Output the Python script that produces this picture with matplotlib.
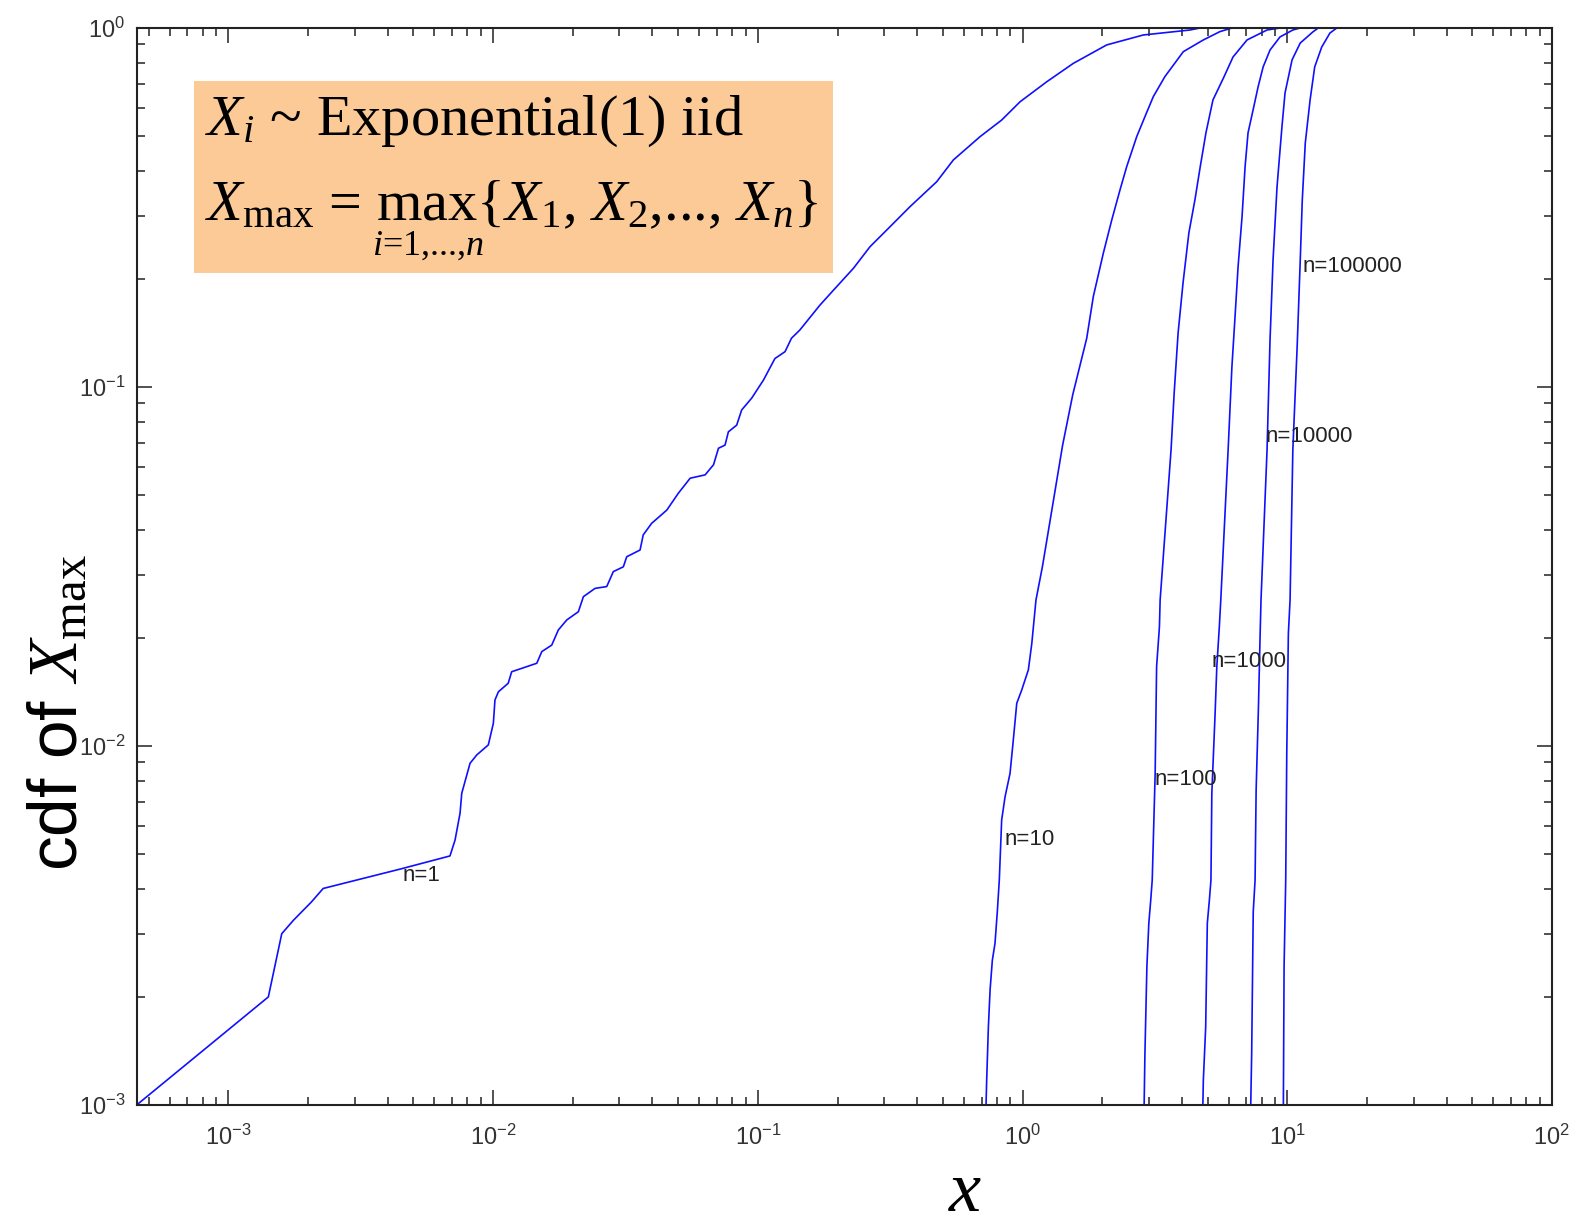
import matplotlib
matplotlib.use("Agg")
import matplotlib.pyplot as plt
from matplotlib.patches import Rectangle

plt.rcParams['font.family'] = ['Liberation Sans', 'DejaVu Sans']
plt.rcParams['mathtext.fontset'] = 'custom'
plt.rcParams['mathtext.rm'] = 'Liberation Serif'
plt.rcParams['mathtext.it'] = 'Liberation Serif:italic'
plt.rcParams['mathtext.bf'] = 'Liberation Serif:bold'
plt.rcParams['axes.unicode_minus'] = False

x_n1 = [4.5e-4, 1.415e-3, 1.59e-3, 1.76e-3, 2.06e-3, 2.28e-3, 4.45e-3, 6.87e-3, 7.18e-3, 7.50e-3,
        7.61e-3, 8.18e-3, 8.67e-3, 9.59e-3, 0.01002, 0.01016, 0.01047, 0.0114, 0.01175, 0.01462,
        0.01527, 0.01665, 0.01763, 0.01897, 0.02099, 0.02193, 0.02427, 0.02686, 0.02845, 0.03104,
        0.03197, 0.0359, 0.0369, 0.0397, 0.0453, 0.0501, 0.0555, 0.0632, 0.0680, 0.0710,
        0.0752, 0.0774, 0.0832, 0.0869, 0.0948, 0.105, 0.116, 0.1267, 0.134, 0.144,
        0.1716, 0.193, 0.2296, 0.2655, 0.307, 0.376, 0.474, 0.548, 0.691, 0.834,
        0.979, 1.234, 1.556, 2.08, 2.86, 4.29, 4.69]
y_n1 = [1.0e-3, 2.0e-3, 3.0e-3, 3.27e-3, 3.68e-3, 4.01e-3, 4.54e-3, 4.94e-3, 5.47e-3, 6.5e-3,
        7.38e-3, 8.95e-3, 9.44e-3, 0.01007, 0.01157, 0.01343, 0.01416, 0.01495, 0.0161, 0.0170,
        0.01832, 0.0191, 0.02104, 0.02244, 0.02366, 0.02606, 0.02748, 0.0278, 0.0306, 0.03156,
        0.03366, 0.03515, 0.03873, 0.0417, 0.0454, 0.0506, 0.0557, 0.0569, 0.0607, 0.0675,
        0.0689, 0.0750, 0.0783, 0.0863, 0.0931, 0.1045, 0.120, 0.1254, 0.1367, 0.144,
        0.169, 0.186, 0.214, 0.246, 0.2737, 0.318, 0.373, 0.429, 0.498, 0.554,
        0.623, 0.708, 0.797, 0.897, 0.956, 0.987, 1.0]

x_n10 = [0.728, 0.732, 0.743, 0.754, 0.769, 0.787, 0.803, 0.817, 0.834, 0.859, 0.897, 0.923,
         0.951, 0.993, 1.052, 1.084, 1.124, 1.189, 1.298, 1.417, 1.548, 1.748, 1.851, 2.019,
         2.173, 2.335, 2.475, 2.70, 2.90, 3.12, 3.45, 4.05, 4.82, 5.57, 6.19]
y_n10 = [1.0e-3, 1.17e-3, 1.65e-3, 2.09e-3, 2.53e-3, 2.82e-3, 3.45e-3, 4.23e-3, 6.22e-3, 7.22e-3,
         8.39e-3, 0.0104, 0.01315, 0.01432, 0.0163, 0.0193, 0.0255, 0.0316, 0.0466, 0.0688,
         0.0952, 0.1367, 0.1786, 0.2357, 0.2918, 0.354, 0.411, 0.498, 0.566, 0.644, 0.732,
         0.859, 0.926, 0.977, 1.0]

x_n100 = [2.88, 2.90, 2.95, 3.00, 3.05, 3.09, 3.12, 3.17, 3.21, 3.29, 3.31, 3.64, 3.74, 3.87,
          4.04, 4.25, 4.48, 4.69, 4.93, 5.24, 5.77, 6.24, 7.05, 8.39, 9.39]
y_n100 = [1.0e-3, 1.39e-3, 2.43e-3, 3.21e-3, 3.72e-3, 4.23e-3, 5.47e-3, 8.39e-3, 0.01663, 0.0215,
          0.0255, 0.0668, 0.0962, 0.1413, 0.195, 0.2685, 0.332, 0.410, 0.510, 0.630, 0.731,
          0.830, 0.926, 0.987, 1.0]

x_n1000 = [4.80, 4.82, 4.92, 4.99, 5.08, 5.15, 5.19, 5.34, 5.42, 5.54, 5.61, 5.98, 6.18, 6.35,
           6.52, 6.75, 6.93, 7.11, 7.43, 7.76, 8.11, 8.61, 9.39, 10.5, 11.2]
y_n1000 = [1.0e-3, 1.17e-3, 1.65e-3, 3.21e-3, 3.72e-3, 4.23e-3, 7.38e-3, 0.01233, 0.01663, 0.0215,
           0.0255, 0.0668, 0.1137, 0.1567, 0.216, 0.298, 0.410, 0.510, 0.591, 0.685, 0.779,
           0.868, 0.944, 0.987, 1.0]

x_n10000 = [7.28, 7.34, 7.44, 7.56, 7.63, 7.78, 7.89, 7.96, 8.39, 8.61, 8.84, 9.15, 9.55, 9.81,
            10.43, 11.2, 12.5, 13.1]
y_n10000 = [1.0e-3, 1.39e-3, 3.45e-3, 4.23e-3, 7.54e-3, 0.0126, 0.0197, 0.0255, 0.0668, 0.135,
            0.226, 0.3606, 0.530, 0.659, 0.815, 0.908, 0.975, 1.0]

x_n100000 = [9.67, 9.73, 9.87, 9.96, 10.1, 10.25, 10.5, 10.9, 11.2, 11.4, 11.7, 12.2, 12.7, 13.5,
             14.5, 15.4]
y_n100000 = [1.0e-3, 2.43e-3, 4.23e-3, 9.54e-3, 0.0206, 0.0255, 0.0668, 0.129, 0.226, 0.332,
             0.478, 0.630, 0.779, 0.885, 0.968, 1.0]

labels = ["n=1", "n=10", "n=100", "n=1000", "n=10000", "n=100000"]
label_x = [4.55e-3, 0.859, 3.14, 5.19, 8.30, 11.4]
label_y = [4.37e-3, 5.5e-3, 8.09e-3, 0.01714, 0.0730, 0.217]

curves = [(x_n1, y_n1), (x_n10, y_n10), (x_n100, y_n100),
          (x_n1000, y_n1000), (x_n10000, y_n10000), (x_n100000, y_n100000)]

fig = plt.figure(figsize=(15.87, 12.21), dpi=100)
ax = fig.add_axes([0.0861, 0.0950, 0.8918, 0.8821])

for xs, ys in curves:
    ax.plot(xs, ys, color='#1010ff', lw=1.2)

for t, lx, ly in zip(labels, label_x, label_y):
    ax.text(lx, ly, t, fontsize=16, color='#222222', ha='left', va='center')

ax.set_xscale('log')
ax.set_yscale('log')
ax.set_xlim(4.5e-4, 100)
ax.set_ylim(1e-3, 1)

ax.tick_params(which='both', direction='in', top=True, right=True, colors='#222222',
               labelcolor='#333333', labelsize=17)
ax.tick_params(which='major', length=11, width=1.1)
ax.tick_params(which='minor', length=5.5, width=1.1)
ax.tick_params(axis='x', pad=14)
ax.tick_params(axis='y', pad=8)
for s in ax.spines.values():
    s.set_linewidth(1.5)
    s.set_color('#222222')

# formula box
fig.patches.append(Rectangle((0.1222, 0.7764), 0.4027, 0.1573, transform=fig.transFigure,
                             facecolor='#fcca96', edgecolor='none', zorder=1))
fig.text(0.1292, 0.8894, r"$X_i$ ~ Exponential(1) iid", fontsize=42,
         family='Liberation Serif', va='baseline', ha='left', zorder=3)
fig.text(0.1292, 0.8193, r"$X_{\mathrm{max}}$ = max{$X_1$, $X_2$,..., $X_n$}",
         fontsize=42, family='Liberation Serif', va='baseline', ha='left', zorder=3)
fig.text(0.2346, 0.7912, r"$i$=1,...,$n$", fontsize=26, family='Liberation Serif',
         va='baseline', ha='left', zorder=3)

fig.text(0.0365, 0.416, r"cdf of $X_{\mathrm{max}}$", fontsize=50, rotation=90,
         ha='center', va='center')
fig.text(0.608, 0.008, r"$x$", fontsize=52, ha='center', va='baseline')

fig.savefig("out.png", dpi=100)
